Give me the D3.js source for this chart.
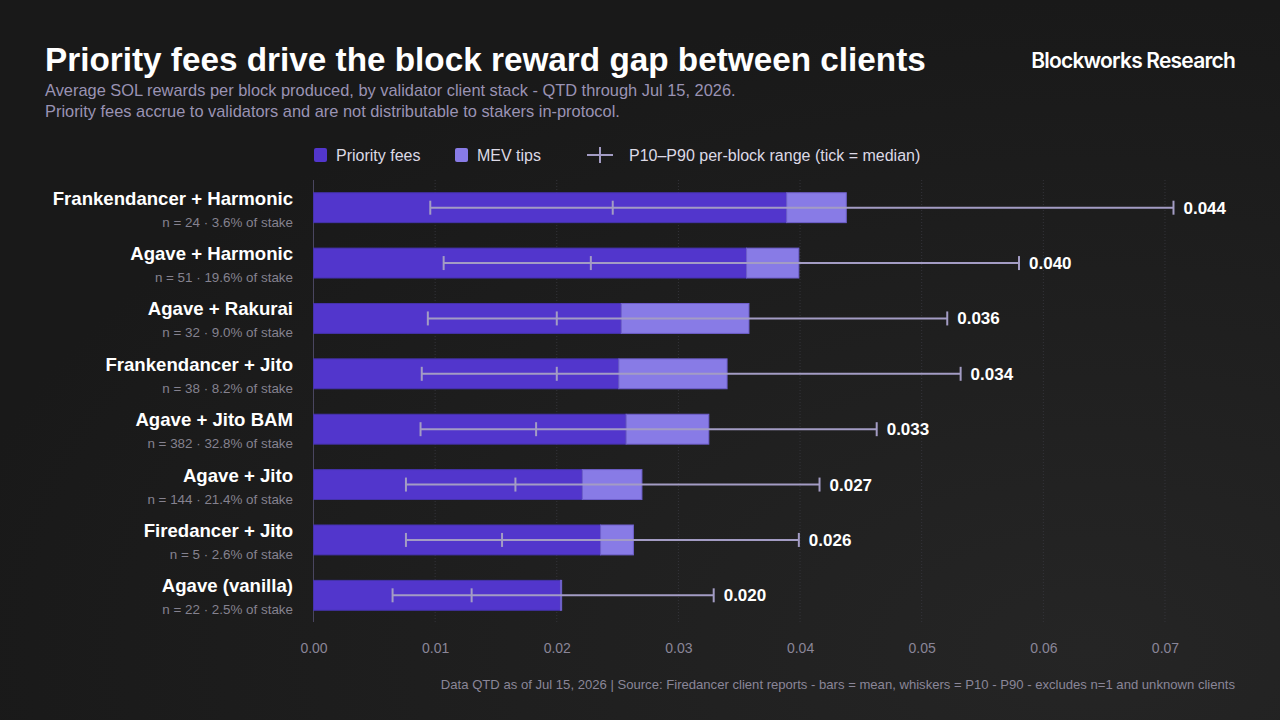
<!DOCTYPE html>
<html>
<head>
<meta charset="utf-8">
<script src="https://cdn.jsdelivr.net/npm/d3@7"></script>
<style>
  html, body { margin: 0; padding: 0; background: #1b1b1b; }
  svg { display: block; font-family: "Liberation Sans", Arial, sans-serif; }
</style>
</head>
<body>
<script>
// client stacks, top to bottom
var clients = [
  'Frankendancer + Harmonic', 'Agave + Harmonic', 'Agave + Rakurai',
  'Frankendancer + Jito', 'Agave + Jito BAM', 'Agave + Jito',
  'Firedancer + Jito', 'Agave (vanilla)'
];
var subLabels = [
  'n = 24 · 3.6% of stake', 'n = 51 · 19.6% of stake', 'n = 32 · 9.0% of stake',
  'n = 38 · 8.2% of stake', 'n = 382 · 32.8% of stake', 'n = 144 · 21.4% of stake',
  'n = 5 · 2.6% of stake', 'n = 22 · 2.5% of stake'
];
// mean SOL per block
var priorityFees = [0.0389, 0.0356, 0.0253, 0.0251, 0.0257, 0.0221, 0.0236, 0.0203];
var mevTips      = [0.0049, 0.0043, 0.0105, 0.0089, 0.0068, 0.0049, 0.0027, 0.0001];
var totals       = [0.044, 0.040, 0.036, 0.034, 0.033, 0.027, 0.026, 0.020];
// per-block distribution
var p10    = [0.0096, 0.0107, 0.0094, 0.0089, 0.0088, 0.0076, 0.0076, 0.0065];
var median = [0.0246, 0.0228, 0.0200, 0.0200, 0.0183, 0.0166, 0.0155, 0.0130];
var p90    = [0.0707, 0.0580, 0.0521, 0.0532, 0.0463, 0.0416, 0.0399, 0.0329];
var xTicks = [0, 0.01, 0.02, 0.03, 0.04, 0.05, 0.06, 0.07];

var W = 1280, H = 720;
var C_PRI = '#5236cc', C_MEV = '#887be6', C_WHISK = '#a39cc4';

var rows = clients.map(function (c, i) {
  return { name: c, sub: subLabels[i], pri: priorityFees[i], mev: mevTips[i],
           total: totals[i], p10: p10[i], med: median[i], p90: p90[i] };
});

var svg = d3.select('body').append('svg')
  .attr('width', W).attr('height', H);

var defs = svg.append('defs');
var grad = defs.append('radialGradient').attr('id', 'bg')
  .attr('cx', '85%').attr('cy', '90%').attr('r', '90%');
grad.append('stop').attr('offset', '0%').attr('stop-color', '#252525');
grad.append('stop').attr('offset', '100%').attr('stop-color', '#191919');
svg.append('rect').attr('width', W).attr('height', H).attr('fill', 'url(#bg)');

// header
svg.append('text').attr('x', 45).attr('y', 71)
  .attr('fill', '#ffffff').attr('font-size', 33.3).attr('font-weight', 700)
  .text('Priority fees drive the block reward gap between clients');
svg.append('text').attr('x', 45).attr('y', 96)
  .attr('fill', '#9a93b4').attr('font-size', 16.4)
  .text('Average SOL rewards per block produced, by validator client stack - QTD through Jul 15, 2026.');
svg.append('text').attr('x', 45).attr('y', 117)
  .attr('fill', '#9a93b4').attr('font-size', 16.4)
  .text('Priority fees accrue to validators and are not distributable to stakers in-protocol.');
svg.append('text').attr('x', 1235).attr('y', 68).attr('text-anchor', 'end')
  .attr('fill', '#ffffff').attr('font-size', 21).attr('font-weight', 600)
  .attr('font-family', 'Inter, "Liberation Sans", sans-serif')
  .attr('letter-spacing', -0.8)
  .text('Blockworks Research');

// legend
var leg = svg.append('g').attr('font-size', 16).attr('fill', '#dcd9e6');
leg.append('rect').attr('x', 314).attr('y', 148).attr('width', 13).attr('height', 14)
  .attr('rx', 2).attr('fill', C_PRI);
leg.append('text').attr('x', 336).attr('y', 161).text('Priority fees');
leg.append('rect').attr('x', 455).attr('y', 148).attr('width', 13).attr('height', 14)
  .attr('rx', 2).attr('fill', C_MEV);
leg.append('text').attr('x', 477).attr('y', 161).text('MEV tips');
leg.append('line').attr('x1', 587).attr('x2', 613).attr('y1', 155).attr('y2', 155)
  .attr('stroke', C_WHISK).attr('stroke-width', 2);
leg.append('line').attr('x1', 600).attr('x2', 600).attr('y1', 147).attr('y2', 163)
  .attr('stroke', C_WHISK).attr('stroke-width', 2);
leg.append('text').attr('x', 629).attr('y', 161).text('P10\u2013P90 per-block range (tick = median)');

// scales
var x = d3.scaleLinear().domain([0, 0.077]).range([313.5, 313.5 + 0.077 * 12164]);
var y = d3.scaleBand().domain(clients).range([180, 623])
  .paddingInner(0.46).paddingOuter(0.23);

// grid
svg.append('g').selectAll('line').data(xTicks.slice(1)).enter().append('line')
  .attr('x1', function (d) { return x(d); }).attr('x2', function (d) { return x(d); })
  .attr('y1', 180).attr('y2', 622)
  .attr('stroke', '#34343a').attr('stroke-width', 1).attr('stroke-dasharray', '1,2');

// x axis labels
var xAxis = d3.axisBottom(x).tickValues(xTicks).tickFormat(d3.format('.2f'))
  .tickSize(0).tickPadding(0);
var ax = svg.append('g').attr('transform', 'translate(0,643)').call(xAxis);
ax.select('.domain').remove();
ax.selectAll('text').attr('fill', '#8a8698').attr('font-size', 14)
  .attr('font-family', '"Liberation Sans", Arial, sans-serif');

// y axis line
svg.append('line').attr('x1', 313.5).attr('x2', 313.5).attr('y1', 180).attr('y2', 622)
  .attr('stroke', '#4a4660').attr('stroke-width', 1);

var row = svg.append('g').selectAll('g.row').data(rows).enter().append('g')
  .attr('class', 'row')
  .attr('transform', function (d) { return 'translate(0,' + y(d.name) + ')'; });

var bh = y.bandwidth();

row.append('rect').attr('x', x(0))
  .attr('width', function (d) { return x(d.pri) - x(0); })
  .attr('height', bh).attr('fill', C_PRI)
  .attr('stroke', '#4533ad').attr('stroke-width', 1);
row.append('rect').attr('x', function (d) { return x(d.pri); })
  .attr('width', function (d) { return x(d.pri + d.mev) - x(d.pri); })
  .attr('height', bh).attr('fill', C_MEV)
  .attr('stroke', '#6f60cc').attr('stroke-width', 1);

// whiskers
row.append('line')
  .attr('x1', function (d) { return x(d.p10); }).attr('x2', function (d) { return x(d.p90); })
  .attr('y1', bh / 2).attr('y2', bh / 2)
  .attr('stroke', C_WHISK).attr('stroke-width', 2);
['p10', 'med', 'p90'].forEach(function (k) {
  row.append('line')
    .attr('x1', function (d) { return x(d[k]); }).attr('x2', function (d) { return x(d[k]); })
    .attr('y1', bh / 2 - 7).attr('y2', bh / 2 + 7)
    .attr('stroke', C_WHISK).attr('stroke-width', 2);
});

// value labels
row.append('text')
  .attr('x', function (d) { return x(d.p90) + 10; })
  .attr('y', bh / 2 + 6)
  .attr('fill', '#ffffff').attr('font-size', 17).attr('font-weight', 700)
  .text(function (d) { return d3.format('.3f')(d.total); });

// category labels
row.append('text').attr('x', 293).attr('y', 12).attr('text-anchor', 'end')
  .attr('fill', '#ffffff').attr('font-size', 18.6).attr('font-weight', 700)
  .text(function (d) { return d.name; });
row.append('text').attr('x', 293).attr('y', 34).attr('text-anchor', 'end')
  .attr('fill', '#85828f').attr('font-size', 13.4)
  .text(function (d) { return d.sub; });

// footer
svg.append('text').attr('x', 1235).attr('y', 689).attr('text-anchor', 'end')
  .attr('fill', '#8a8698').attr('font-size', 13.1)
  .text('Data QTD as of Jul 15, 2026 | Source: Firedancer client reports - bars = mean, whiskers = P10 - P90 - excludes n=1 and unknown clients');
</script>
</body>
</html>
